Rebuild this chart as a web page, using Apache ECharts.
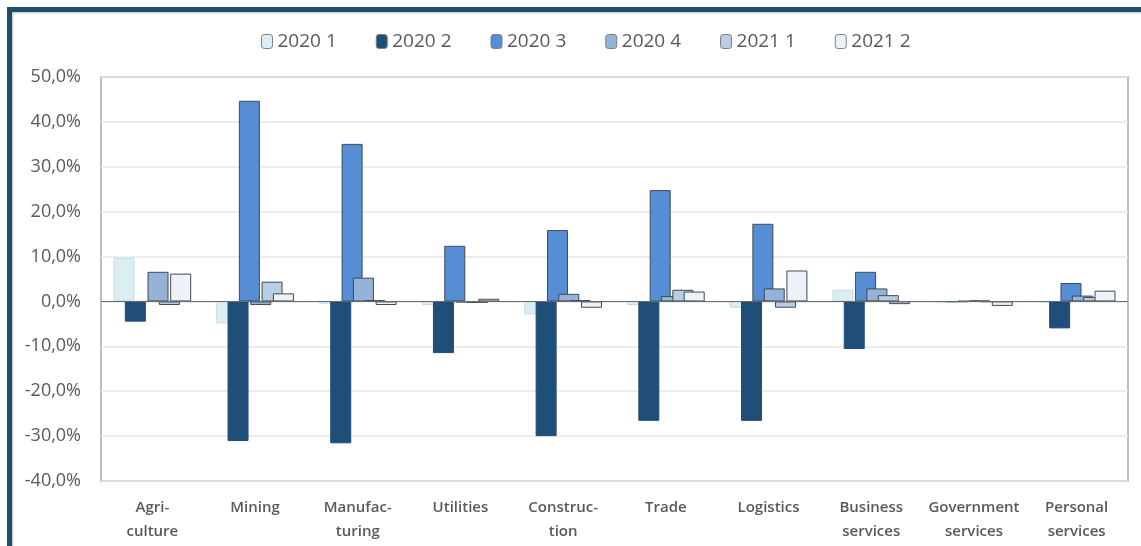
<!DOCTYPE html>
<html><head><meta charset="utf-8">
<script src="https://cdn.jsdelivr.net/npm/echarts@6/dist/echarts.min.js"></script>
<style>
html,body{margin:0;padding:0;background:#fff;overflow:hidden;}
#frame{position:absolute;left:7px;top:7px;width:1300px;height:700px;border-left:5px solid #1d4f6a;border-top:5px solid #1d4f6a;box-shadow:1px 1px 2px #bbb inset;}
#c{position:absolute;left:0;top:0;width:1141px;height:546px;}
</style></head>
<body>
<div id="frame"></div>
<div id="c"></div>
<script>
const categories = ['Agri-\nculture','Mining','Manufac-\nturing','Utilities','Construc-\ntion','Trade','Logistics','Business\nservices','Government\nservices','Personal\nservices'];
const seriesNames = ['2020 1','2020 2','2020 3','2020 4','2021 1','2021 2'];
const s2020_1 = [9.7, -4.9, -0.5, -0.8, -2.9, -0.8, -1.4, 2.6, -0.3, -0.2];
const s2020_2 = [-4.5, -31.1, -31.6, -11.5, -30.0, -26.6, -26.6, -10.6, -0.1, -6.0];
const s2020_3 = [0.0, 44.7, 35.1, 12.4, 15.9, 24.8, 17.3, 6.6, 0.1, 4.1];
const s2020_4 = [6.6, -0.8, 5.3, -0.2, 1.7, 1.2, 2.9, 2.9, 0.2, 1.3];
const s2021_1 = [-0.8, 4.4, 0.3, -0.3, 0.3, 2.6, -1.4, 1.4, -0.1, 1.0];
const s2021_2 = [6.2, 1.8, -0.8, 0.6, -1.4, 2.2, 6.9, -0.6, -1.0, 2.4];
const yTicks = {min: -40, max: 50, interval: 10};

const fills = ['#daeef3','#1f4e79','#558ed5','#95b3d7','#b9cde5','#edf2f9'];
const borders = ['#c3dce4','#1f4e79','#3f4a56','#3f4a56','#3f4a56','#3f4a56'];
const data = [s2020_1,s2020_2,s2020_3,s2020_4,s2021_1,s2021_2];
const FONT = 'Open Sans';

const chart = echarts.init(document.getElementById('c'), null, {renderer:'canvas'});
const series = seriesNames.map((n,i)=>({
  name:n, type:'bar', data:data[i], barWidth:21, barGap:'-46%',
  itemStyle:{color:fills[i], borderColor:borders[i], borderWidth:1},
  emphasis:{disabled:true}
}));
series[0].markLine = {silent:true, symbol:'none', label:{show:false},
  lineStyle:{color:'#6b6b6b', type:'solid', width:1.2}, data:[{yAxis:0}], z:10};
chart.setOption({
  animation:false,
  legend:{top:27, left:256, itemWidth:11, itemHeight:14, itemGap:39,
    textStyle:{fontFamily:FONT, fontSize:19, color:'#595959'},
    itemStyle:{borderColor:'#7f7f7f', borderWidth:1}},
  grid:{left:101, right:13, top:77, bottom:65, show:true, borderColor:'#a6a6a6', borderWidth:1.5},
  xAxis:{type:'category', data:categories, axisLine:{show:false, onZero:false}, axisTick:{show:false},
    axisLabel:{interval:0, fontFamily:FONT, fontSize:15, color:'#595959', margin:15, lineHeight:24, fontWeight:600}},
  yAxis:{type:'value', min:yTicks.min, max:yTicks.max, interval:yTicks.interval,
    axisLine:{show:false}, axisTick:{show:false},
    splitLine:{lineStyle:{color:'#e6e6e6', width:1.5}},
    axisLabel:{fontFamily:FONT, fontSize:18, color:'#595959', margin:20,
      formatter:v=>v.toFixed(1).replace('.',',')+'%'}},
  series:series
});
</script>
</body></html>
